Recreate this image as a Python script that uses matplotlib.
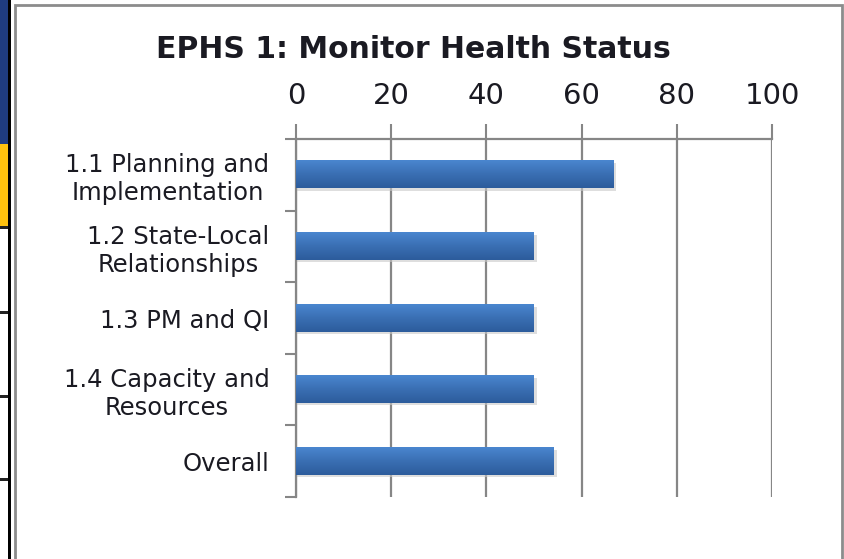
import matplotlib
matplotlib.use("Agg")
import matplotlib.pyplot as plt
import numpy as np
from matplotlib.patches import Rectangle

# data
categories = ["1.1 Planning and\nImplementation", "1.2 State-Local\nRelationships",
              "1.3 PM and QI", "1.4 Capacity and\nResources", "Overall"]
scores = [66.7, 50.0, 50.0, 50.0, 54.2]
x_ticks = [0, 20, 40, 60, 80, 100]
title = "EPHS 1: Monitor Health Status"

W, H = 844, 559
plt.rcParams['font.family'] = ['DejaVu Sans']

fig = plt.figure(figsize=(W / 100, H / 100), dpi=100)
fig.patch.set_facecolor("white")

def px(x0, y0, w, h, **kw):
    # rectangle in pixel coordinates (top-left origin)
    fig.patches.append(Rectangle((x0 / W, 1 - (y0 + h) / H), w / W, h / H,
                                 transform=fig.transFigure, **kw))

# fragment of the neighbouring table on the left
px(0, 0, 8, 144, facecolor="#1f3c80", edgecolor="none")
px(0, 144, 8, 83, facecolor="#ffc20e", edgecolor="none")
for yy in [227, 312, 396, 479]:
    px(0, yy - 1, 9, 2.5, facecolor="#222222", edgecolor="none")
px(8, 0, 2.5, H, facecolor="black", edgecolor="none")

# chart frame
px(15, 5, 827, H + 10, facecolor="none", edgecolor="#8c8c8c", linewidth=2)

ax = fig.add_axes([296 / W, 1 - 497 / H, (772 - 296) / W, (497 - 139) / H])
ax.set_facecolor("none")

y = np.arange(len(categories))
bars = ax.barh(y, scores, height=0.38, color="#3b72ba", edgecolor="none", zorder=3)

# soft gradient and shadow on each bar
grad = np.linspace(0, 1, 50).reshape(-1, 1)
cmap = matplotlib.colors.LinearSegmentedColormap.from_list("g", ["#4a86cf", "#3a6fb3", "#2c5c9c"])
for b in bars:
    x0, y0, w, h = b.get_x(), b.get_y(), b.get_width(), b.get_height()
    ax.imshow(grad, extent=(x0, x0 + w, y0 + h, y0), aspect="auto", cmap=cmap,
              zorder=4, interpolation="bilinear")
    ax.add_patch(Rectangle((x0, y0 + 0.03), w + 0.6, h, facecolor="#c8c8c8",
                           edgecolor="none", alpha=0.6, zorder=2))

ax.set_xlim(0, 100)
ax.set_ylim(len(categories) - 0.5, -0.5)
ax.xaxis.tick_top()
ax.set_xticks(x_ticks)
ax.set_xticklabels([str(t) for t in x_ticks], fontsize=21, color="#1a1a22")
ax.tick_params(axis="x", direction="out", length=11, width=1.5, color="#868686", pad=10)
ax.grid(axis="x", color="#868686", linewidth=1.6, zorder=1)

ax.set_yticks(y)
ax.set_yticklabels(categories, fontsize=17.5, color="#1a1a22", multialignment="center",
                   linespacing=1.22)
ax.set_yticks(np.arange(len(categories) + 1) - 0.5, minor=True)
ax.tick_params(axis="y", which="major", length=0, pad=19)
ax.tick_params(axis="y", which="minor", direction="out", length=8, width=1.5, color="#868686")

for s in ["right", "bottom"]:
    ax.spines[s].set_visible(False)
for s in ["left", "top"]:
    ax.spines[s].set_color("#868686")
    ax.spines[s].set_linewidth(1.6)

fig.text(413 / W, 1 - 49 / H, title, fontsize=21.5, fontweight="bold", color="#1a1a22",
         ha="center", va="center")

fig.savefig("out.png", dpi=100)
